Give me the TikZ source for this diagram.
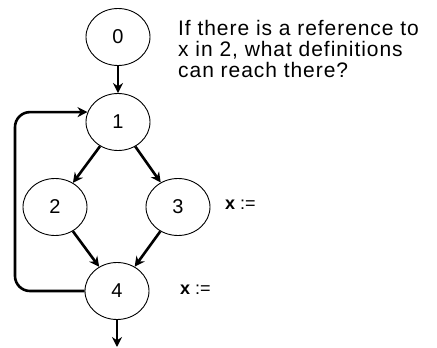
\documentclass[tikz,border=0pt]{standalone}
\usepackage{fontspec}
\setmainfont{Liberation Sans}
\usetikzlibrary{arrows.meta,shapes.geometric}
\begin{document}
\begin{tikzpicture}[x=1pt,y=-1pt,
  blk/.style={draw,line width=0.9pt,ellipse,minimum width=64pt,minimum height=57pt,inner sep=0pt,font=\fontsize{20}{20}\selectfont},
  arr/.style={line width=2.6pt,-{Stealth[length=10pt,width=10pt]}},
  lbl/.style={font=\fontsize{18}{18}\selectfont,anchor=base west,inner sep=0pt}]
\useasboundingbox (0,0) rectangle (437,348);
\node[blk] (n0) at (118,37) {0};
\node[blk] (n1) at (118,122) {1};
\node[blk] (n2) at (55,207) {2};
\node[blk] (n3) at (178,207) {3};
\node[blk] (n4) at (117,291) {4};
\coordinate (lx) at (15,0);
\coordinate (end) at (117,347);
\draw[arr] (n0) -- (n1);
\draw[arr] (n1) -- (n2);
\draw[arr] (n1) -- (n3);
\draw[arr] (n2) -- (n4);
\draw[arr] (n3) -- (n4);
\draw[arr] (n4) -- (end);
\draw[arr,rounded corners=15pt] (n4.west) -- (n4.west -| lx) |- (n1.162);
\node[lbl] (q) at (178,35) {\fontsize{21}{20.5}\selectfont\addfontfeature{LetterSpace=4.5}\begin{tabular}[t]{@{}l@{}}If there is a reference to\\x in 2, what definitions\\can reach there?\end{tabular}};
\node[lbl] (d3) at (225,209) {\textbf{x} :=};
\node[lbl] (d4) at (180,294) {\textbf{x} :=};
\end{tikzpicture}
\end{document}
